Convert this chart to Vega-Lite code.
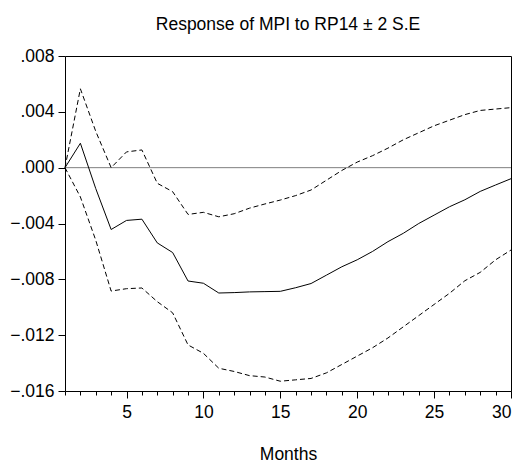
{
  "$schema": "https://vega.github.io/schema/vega-lite/v6.json",
  "autosize": "none",
  "width": 446,
  "height": 335,
  "padding": {"left": 65, "top": 56, "right": 10, "bottom": 73},
  "background": "white",
  "config": {
    "font": "Liberation Sans",
    "view": {"stroke": "black", "strokeWidth": 1},
    "axis": {"grid": false, "domain": false, "tickColor": "black", "labelColor": "black", "labelFont": "Liberation Sans", "labelFontSize": 17.5, "titleFont": "Liberation Sans", "titleFontWeight": "normal", "titleFontSize": 17.5, "titleColor": "black"}
  },
  "title": {"text": "Response of MPI to RP14 ± 2 S.E", "fontSize": 17.5, "fontWeight": "normal", "font": "Liberation Sans", "color": "black", "anchor": "middle", "offset": 13.5},
  "data": {"values": [
    {"month": 1, "resp": 0, "upper": 0, "lower": 0},
    {"month": 2, "resp": 0.00175, "upper": 0.00565, "lower": -0.0021},
    {"month": 3, "resp": -0.0015, "upper": 0.0026, "lower": -0.0052},
    {"month": 4, "resp": -0.00443, "upper": 0.0, "lower": -0.00884},
    {"month": 5, "resp": -0.00378, "upper": 0.00113, "lower": -0.00867},
    {"month": 6, "resp": -0.00369, "upper": 0.00127, "lower": -0.00862},
    {"month": 7, "resp": -0.00539, "upper": -0.00112, "lower": -0.0096},
    {"month": 8, "resp": -0.00608, "upper": -0.00172, "lower": -0.0104},
    {"month": 9, "resp": -0.00812, "upper": -0.00335, "lower": -0.0127},
    {"month": 10, "resp": -0.00828, "upper": -0.0032, "lower": -0.0133},
    {"month": 11, "resp": -0.00898, "upper": -0.00352, "lower": -0.01437},
    {"month": 12, "resp": -0.00895, "upper": -0.0033, "lower": -0.0146},
    {"month": 13, "resp": -0.0089, "upper": -0.0029, "lower": -0.0149},
    {"month": 14, "resp": -0.00888, "upper": -0.0026, "lower": -0.0150},
    {"month": 15, "resp": -0.00886, "upper": -0.00232, "lower": -0.0153},
    {"month": 16, "resp": -0.0086, "upper": -0.0020, "lower": -0.0152},
    {"month": 17, "resp": -0.0083, "upper": -0.0016, "lower": -0.0151},
    {"month": 18, "resp": -0.0077, "upper": -0.0009, "lower": -0.0147},
    {"month": 19, "resp": -0.0071, "upper": -0.0002, "lower": -0.0141},
    {"month": 20, "resp": -0.0066, "upper": 0.0004, "lower": -0.0135},
    {"month": 21, "resp": -0.0060, "upper": 0.00086, "lower": -0.0129},
    {"month": 22, "resp": -0.0053, "upper": 0.0014, "lower": -0.0122},
    {"month": 23, "resp": -0.0047, "upper": 0.0020, "lower": -0.0114},
    {"month": 24, "resp": -0.0040, "upper": 0.0025, "lower": -0.0106},
    {"month": 25, "resp": -0.0034, "upper": 0.0030, "lower": -0.0098},
    {"month": 26, "resp": -0.0028, "upper": 0.0034, "lower": -0.0090},
    {"month": 27, "resp": -0.0023, "upper": 0.0038, "lower": -0.0081},
    {"month": 28, "resp": -0.0017, "upper": 0.0041, "lower": -0.0075},
    {"month": 29, "resp": -0.00124, "upper": 0.0042, "lower": -0.0066},
    {"month": 30, "resp": -0.00079, "upper": 0.0043, "lower": -0.0059}
  ]},
  "layer": [
    {
      "data": {"values": [{"zero": 0}]},
      "mark": {"type": "rule", "color": "#7f7f7f", "strokeWidth": 1},
      "encoding": {"y": {"field": "zero", "type": "quantitative", "scale": {"domain": [-0.016, 0.008], "nice": false, "zero": false},
        "axis": {"title": null, "values": [-0.016, -0.012, -0.008, -0.004, 0, 0.004, 0.008], "tickSize": 7, "labelPadding": 4, "labelExpr": "replace(format(datum.value, '.3f'), '0.', '.')"}}}
    },
    {
      "mark": {"type": "line", "color": "black", "strokeWidth": 1},
      "encoding": {
        "x": {"field": "month", "type": "quantitative", "scale": {"domain": [1, 30], "nice": false, "zero": false},
          "axis": {"orient": "bottom", "title": "Months", "values": [1,2,3,4,5,6,7,8,9,10,11,12,13,14,15,16,17,18,19,20,21,22,23,24,25,26,27,28,29,30], "labels": false, "tickSize": 4, "titlePadding": 50}},
        "y": {"field": "resp", "type": "quantitative"}
      }
    },
    {
      "mark": {"type": "line", "color": "black", "strokeWidth": 1, "strokeDash": [5, 3]},
      "encoding": {
        "x": {"field": "month", "type": "quantitative", "scale": {"domain": [1, 30], "nice": false, "zero": false},
          "axis": {"orient": "bottom", "title": null, "values": [5, 10, 15, 20, 25, 30], "tickSize": 7, "labelPadding": 5, "format": "d"}},
        "y": {"field": "upper", "type": "quantitative"}
      }
    },
    {
      "mark": {"type": "line", "color": "black", "strokeWidth": 1, "strokeDash": [5, 3]},
      "encoding": {
        "x": {"field": "month", "type": "quantitative", "scale": {"domain": [1, 30], "nice": false, "zero": false}, "axis": null},
        "y": {"field": "lower", "type": "quantitative"}
      }
    }
  ],
  "resolve": {"axis": {"x": "independent"}}
}
